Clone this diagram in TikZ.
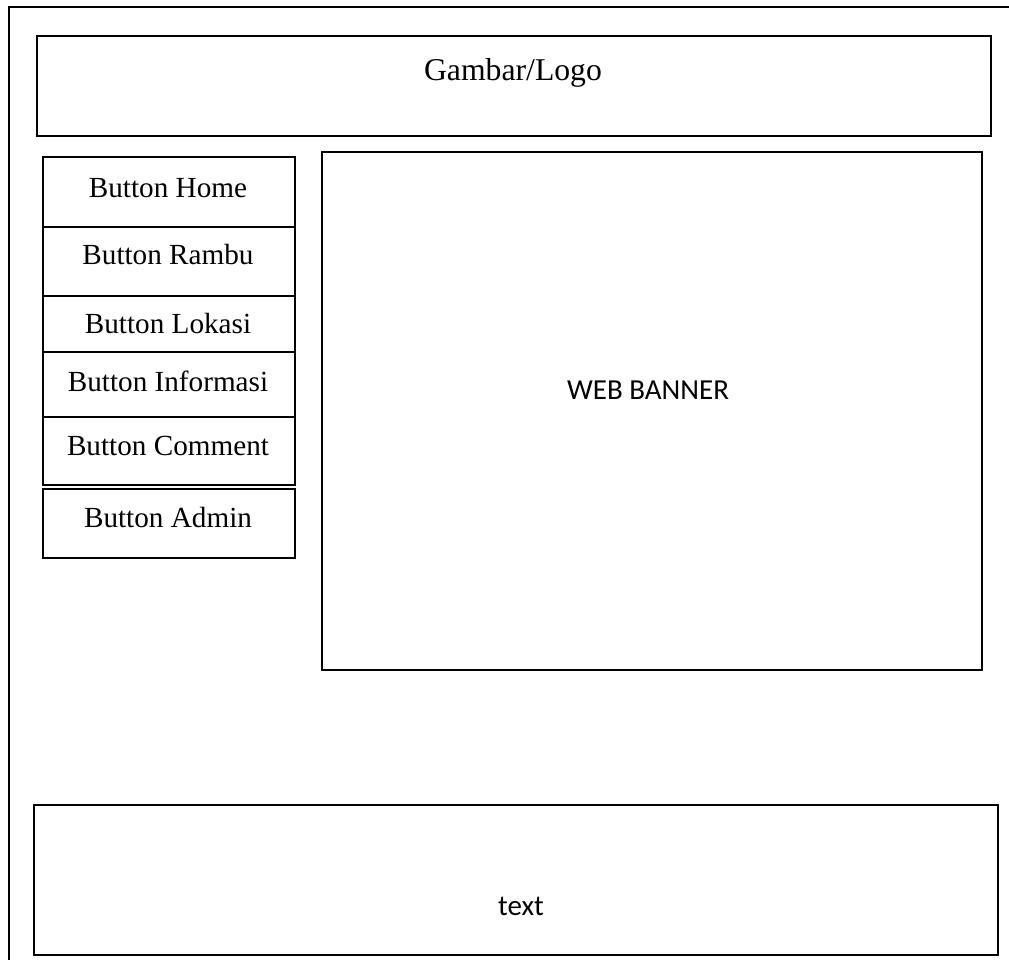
\documentclass[tikz,border=0pt]{standalone}
\usepackage{fontspec}
\setmainfont{Liberation Serif}
\newfontfamily\bannerfont{Carlito}
\usepackage{tikz}
\usetikzlibrary{positioning}

\tikzset{
    panel/.style={rectangle, draw, line width=2pt, inner sep=0pt, anchor=north west},
    btnbox/.style={rectangle, draw, line width=1.6pt, inner sep=0pt, anchor=north west, minimum width=252pt},
    btnlabel/.style={anchor=base, inner sep=0pt, font=\fontsize{29.2}{35}\selectfont},
    sanslabel/.style={anchor=base, inner sep=0pt, font=\bannerfont\fontsize{29}{35}\selectfont},
}

\begin{document}
\begin{tikzpicture}[x=1pt, y=-1pt]
    \useasboundingbox (0,0) rectangle (1009,960);

    % Page frame
    \coordinate (frameTR) at (1009,7);
    \coordinate (frameTL) at (9,7);
    \coordinate (frameBL) at (9,960);
    \draw[line width=2pt] (frameTR) -- (frameTL) -- (frameBL);

    % Header
    \node[panel, minimum width=954pt, minimum height=100pt] (logo) at (36,35) {};
    \node[anchor=base, inner sep=0pt, font=\fontsize{31.7}{38}\selectfont] (logotext) at (513,81) {Gambar/Logo};

    % Menu buttons
    \node[btnbox, minimum height=70pt] (home) at (42,156) {};
    \node[btnbox, minimum height=69pt] (rambu) at (42,226) {};
    \node[btnbox, minimum height=56pt] (lokasi) at (42,295) {};
    \node[btnbox, minimum height=65pt] (informasi) at (42,351) {};
    \node[btnbox, minimum height=68pt] (comment) at (42,416) {};
    \node[btnbox, minimum height=69pt] (admin) at (42,488) {};

    \node[btnlabel] (hometext) at (168,198) {Button Home};
    \node[btnlabel] (rambutext) at (168,264) {Button Rambu};
    \node[btnlabel] (lokasitext) at (168,333) {Button Lokasi};
    \node[btnlabel] (informasitext) at (168,391) {Button Informasi};
    \node[btnlabel] (commenttext) at (168,455) {Button Comment};
    \node[btnlabel] (admintext) at (168,527) {Button Admin};

    % Banner
    \node[panel, minimum width=660pt, minimum height=518pt] (banner) at (321,151) {};
    \node[sanslabel] (bannertext) at (648,399) {WEB BANNER};

    % Footer
    \node[panel, minimum width=964pt, minimum height=150pt] (footer) at (33,804) {};
    \node[sanslabel] (footertext) at (521,915) {text};
\end{tikzpicture}
\end{document}
